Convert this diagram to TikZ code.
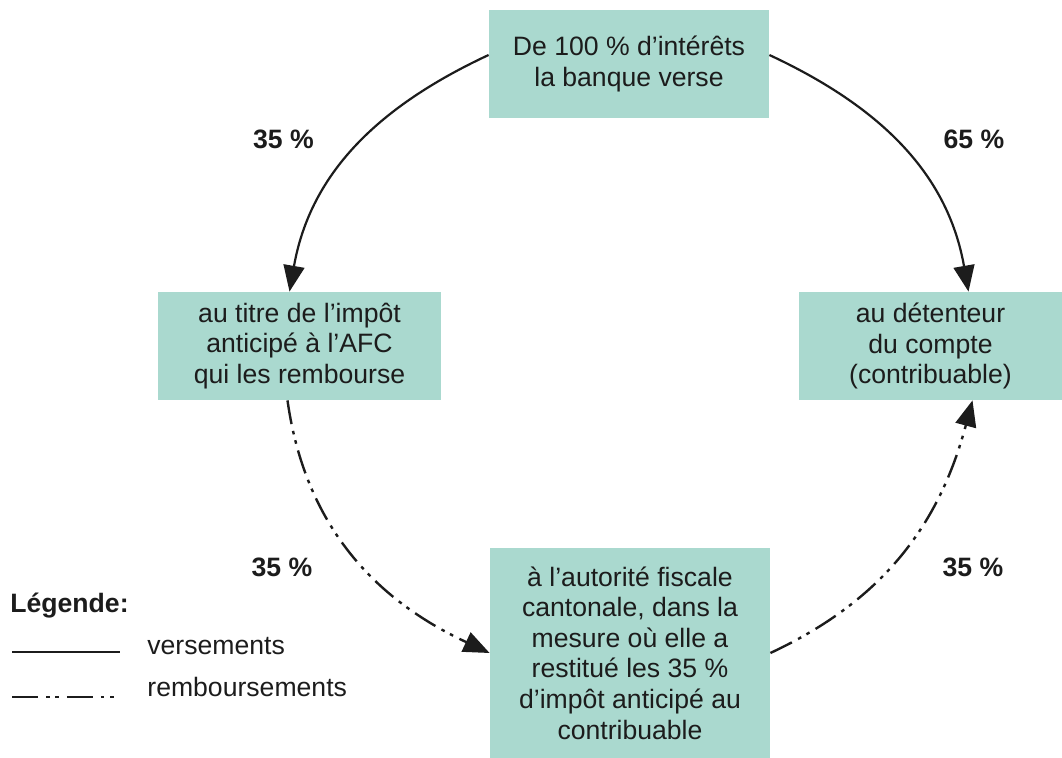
\documentclass[tikz,border=0pt]{standalone}
\usepackage{fontspec}
\setmainfont{Liberation Sans}
\usetikzlibrary{arrows.meta, positioning}
\definecolor{boxgreen}{RGB}{170,217,207}
\definecolor{inkdark}{RGB}{28,28,28}

\begin{document}
\begin{tikzpicture}[x=0.5pt, y=-0.5pt,
  box/.style={fill=boxgreen, text=inkdark, align=center, inner sep=0pt, minimum height=54pt, font=\fontsize{13.3}{15.3}\selectfont},
  pct/.style={text=inkdark, anchor=base, inner sep=0pt, font=\bfseries\fontsize{13.3}{15.3}\selectfont},
  legtext/.style={text=inkdark, anchor=base west, inner sep=0pt, font=\fontsize{13.3}{15.3}\selectfont},
  flow/.style={draw=inkdark, line width=1.1pt, -{Triangle[length=13pt, width=10.5pt]}},
  refund/.style={flow, line width=1.2pt, dash pattern=on 12pt off 3.5pt on 1.8pt off 3pt on 1.8pt off 3.5pt}]

  \useasboundingbox (0,0) rectangle (1062,758);

  % Nodes
  \node (banque) [box, minimum width=140pt] at (629,64) {De 100 \% d’intérêts\\la banque verse};
  \node (afc) [box, minimum width=141.5pt] at (299.5,346) {au titre de l’impôt\\anticipé à l’AFC\\qui les rembourse};
  \node (detenteur) [box, minimum width=131.5pt] at (930.5,346) {au détenteur\\du compte\\(contribuable)};
  \node (canton) [box, minimum width=140pt, minimum height=105pt] at (630,653) {à l’autorité fiscale\\cantonale, dans la\\mesure où elle a\\restitué les 35 \%\\d’impôt anticipé au\\contribuable};

  \node (pctafc) [pct] at (283.5,149) {35 \%};
  \node (pctdet) [pct] at (974,149) {65 \%};
  \node (pctcanton) [pct] at (282,577) {35 \%};
  \node (pctretour) [pct] at (973,577) {35 \%};

  % Legend
  \node (legende) [pct, anchor=base west] at (10,613) {Légende:};
  \coordinate (solidA) at (12,652);
  \coordinate (solidB) at (120,652);
  \coordinate (dashA) at (12,697);
  \coordinate (dashB) at (120,697);
  \node (versements) [legtext] at (147,655) {versements};
  \node (remboursements) [legtext] at (147,697) {remboursements};
  \draw[draw=inkdark, line width=1.1pt] (solidA) -- (solidB);
  \draw[draw=inkdark, line width=1.2pt, dash pattern=on 13pt off 4pt on 1.8pt off 2.8pt on 1.8pt off 4pt] (dashA) -- (dashB);

  % Arrows
  \draw[flow] ([yshift=4.5pt]banque.west) to[out=205, in=80] ([xshift=-5pt]afc.north);
  \draw[flow] ([yshift=4.5pt]banque.east) to[out=-25, in=100] ([xshift=19pt]detenteur.north);
  \draw[refund] ([xshift=-6pt]afc.south) to[out=-82, in=155] (canton.west);
  \draw[refund] (canton.east) to[out=25, in=-105] ([xshift=21pt]detenteur.south);

\end{tikzpicture}
\end{document}
